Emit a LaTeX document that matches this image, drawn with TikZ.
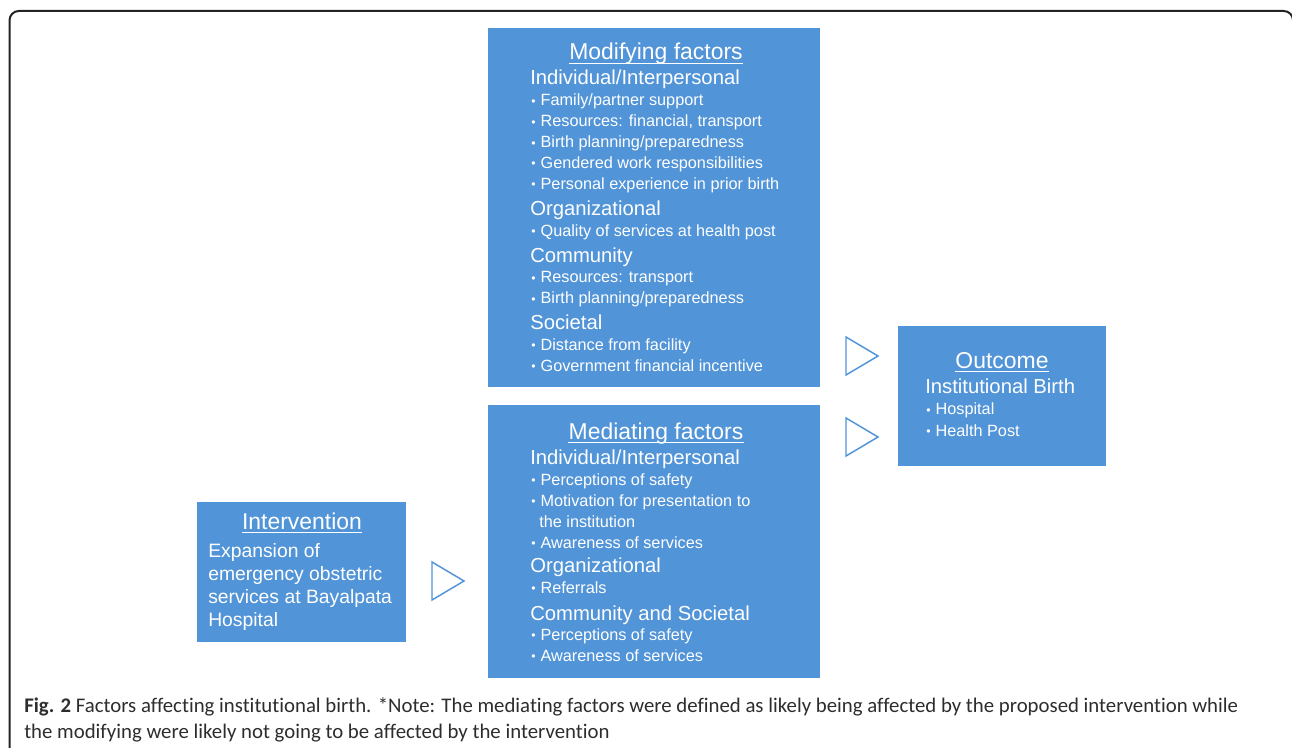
\documentclass[tikz,border=0pt]{standalone}
\usepackage{fontspec}
\setmainfont{Liberation Sans}
\newfontfamily\capfont[Ligatures=NoCommon]{Carlito}
\definecolor{boxblue}{RGB}{81,148,216}
\definecolor{framegray}{RGB}{35,35,35}
\definecolor{captext}{RGB}{45,45,45}
\newcommand\bu{\makebox[7.0pt][l]{\raisebox{0.6pt}{\scalebox{0.75}{•}}}}
\begin{document}
\begin{tikzpicture}[x=0.75pt,y=-0.75pt,
  box/.style={fill=boxblue, draw=none, inner sep=0pt, anchor=north west},
  ttl/.style={text=white, inner sep=0pt, anchor=base, font=\fontsize{17.2}{20}\selectfont},
  head/.style={text=white, inner sep=0pt, anchor=base west, font=\fontsize{15.2}{18}\selectfont},
  item/.style={text=white, inner sep=0pt, anchor=base west, font=\fontsize{12.2}{14}\selectfont},
  big/.style={text=white, inner sep=0pt, anchor=base west, font=\fontsize{14.5}{17}\selectfont},
  uline/.style={white, line width=0.8pt},
  tri/.style={draw=boxblue, line width=1.1pt, line join=miter, fill=none},
  captxt/.style={text=captext, inner sep=0pt, anchor=base west, font=\capfont\fontsize{15.6}{18}\selectfont}]
\useasboundingbox (0,0) rectangle (1292,748);
\begin{scope}
\clip (0,0) rectangle (1292,748);
\draw[framegray, line width=1.5pt, rounded corners=7pt] (9.5,11) rectangle (1293,775);
\end{scope}

% boxes
\node[box, minimum width={332*0.75pt}, minimum height={359*0.75pt}] (mod) at (488,28) {};
\node[box, minimum width={332*0.75pt}, minimum height={273*0.75pt}] (med) at (488,405) {};
\node[box, minimum width={209*0.75pt}, minimum height={140*0.75pt}] (int) at (197,502) {};
\node[box, minimum width={208*0.75pt}, minimum height={140*0.75pt}] (out) at (898,326) {};

% triangles
\draw[tri] (846,337) -- (878,356) -- (846,375) -- cycle;
\draw[tri] (846,418) -- (878,437) -- (846,456) -- cycle;
\draw[tri] (432,562) -- (464,581) -- (432,600) -- cycle;

% modifying factors
\node[ttl] (modt) at (656,60) {Modifying factors};
\draw[uline] ([yshift=-2.4pt]modt.base west) -- ([yshift=-2.4pt]modt.base east);
\node[head] (m1) at (530,85) {Individual/Interpersonal};
\node[item] (m2) at (531,106) {\bu Family/partner support};
\node[item] (m3) at (531,127) {\bu Resources: financial, transport};
\node[item] (m4) at (531,148) {\bu Birth planning/preparedness};
\node[item] (m5) at (531,168.5) {\bu Gendered work responsibilities};
\node[item] (m6) at (531,189.5) {\bu Personal experience in prior birth};
\node[head] (m7) at (530,215.5) {Organizational};
\node[item] (m8) at (531,236.5) {\bu Quality of services at health post};
\node[head] (m9) at (530,262.5) {Community};
\node[item] (m10) at (531,283) {\bu Resources: transport};
\node[item] (m11) at (531,304) {\bu Birth planning/preparedness};
\node[head] (m12) at (530,329.5) {Societal};
\node[item] (m13) at (531,350.5) {\bu Distance from facility};
\node[item] (m14) at (531,371.5) {\bu Government financial incentive};

% mediating factors
\node[ttl] (medt) at (656,439) {Mediating factors};
\draw[uline] ([yshift=-2.4pt]medt.base west) -- ([yshift=-2.4pt]medt.base east);
\node[head] (d1) at (530,464) {Individual/Interpersonal};
\node[item] (d2) at (531,485) {\bu Perceptions of safety};
\node[item] (d3) at (531,506) {\bu Motivation for presentation to};
\node[item] (d4) at (539,527.5) {the institution};
\node[item] (d5) at (531,548.5) {\bu Awareness of services};
\node[head] (d6) at (530,572.5) {Organizational};
\node[item] (d7) at (531,593.5) {\bu Referrals};
\node[head] (d8) at (530,620) {Community and Societal};
\node[item] (d9) at (531,640.5) {\bu Perceptions of safety};
\node[item] (d10) at (531,661.5) {\bu Awareness of services};

% intervention
\node[ttl] (intt) at (302,529) {Intervention};
\draw[uline] ([yshift=-2.4pt]intt.base west) -- ([yshift=-2.4pt]intt.base east);
\node[big] (i1) at (208,557) {Expansion of};
\node[big] (i2) at (208,580) {emergency obstetric};
\node[big] (i3) at (208,603) {services at Bayalpata};
\node[big] (i4) at (208,626) {Hospital};

% outcome
\node[ttl] (outt) at (1002,368.5) {Outcome};
\draw[uline] ([yshift=-2.4pt]outt.base west) -- ([yshift=-2.4pt]outt.base east);
\node[head] (o1) at (925,393.5) {Institutional Birth};
\node[item] (o2) at (926,415) {\bu Hospital};
\node[item] (o3) at (926,436) {\bu Health Post};

% caption
\node[captxt] (c1) at (24,712) {\textbf{Fig. 2} Factors affecting institutional birth. *Note: The mediating factors were defined as likely being affected by the proposed intervention while};
\node[captxt] (c2) at (24,738) {the modifying were likely not going to be affected by the intervention};
\end{tikzpicture}
\end{document}
